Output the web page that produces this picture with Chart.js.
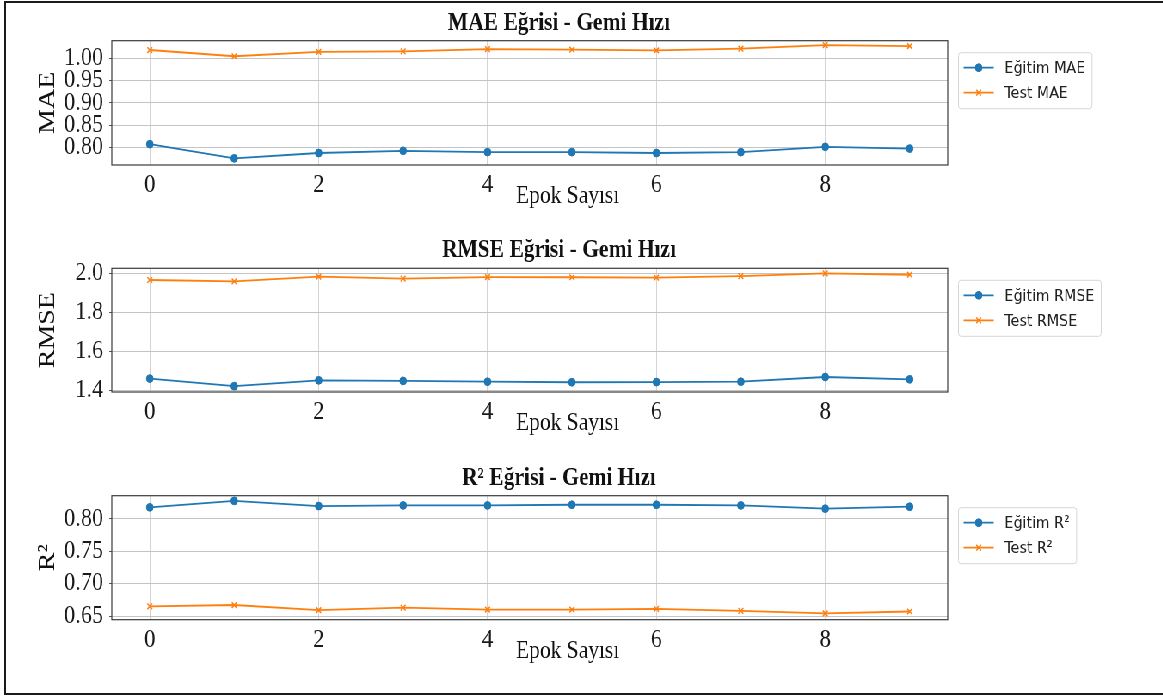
<!DOCTYPE html>
<html>
<head>
<meta charset="utf-8">
<script src="https://cdn.jsdelivr.net/npm/chart.js@4.4.0/dist/chart.umd.min.js"></script>
<style>
  html, body { margin: 0; padding: 0; background: #fff; }
  body { width: 1163px; height: 697px; overflow: hidden; position: relative; }
  #frame { position: absolute; left: 4px; top: 1px; width: 1180px; height: 694px;
           border: 2px solid #1a1a1a; box-sizing: border-box; }
  /* the source picture is squeezed sideways, so draw wide and squash */
  #squash { position: absolute; left: 0; top: 0; width: 1352px; height: 697px;
            transform: scaleX(0.86); transform-origin: 0 0; }
  .panel { position: absolute; left: 0; width: 1352px; }
</style>
</head>
<body>
<div id="squash">
  <div class="panel" style="top:0;height:228px"><canvas id="c0"></canvas></div>
  <div class="panel" style="top:228px;height:228px"><canvas id="c1"></canvas></div>
  <div class="panel" style="top:456px;height:241px"><canvas id="c2"></canvas></div>
</div>
<div id="frame"></div>
<script>
const epochs = [0, 1, 2, 3, 4, 5, 6, 7, 8, 9];

const maeTrain = [0.807, 0.775, 0.787, 0.792, 0.789, 0.789, 0.787, 0.789, 0.801, 0.797];
const maeTest = [1.019, 1.005, 1.015, 1.016, 1.021, 1.020, 1.018, 1.022, 1.030, 1.028];

const rmseTrain = [1.460, 1.421, 1.451, 1.448, 1.444, 1.441, 1.442, 1.444, 1.468, 1.456];
const rmseTest = [1.966, 1.959, 1.983, 1.973, 1.981, 1.980, 1.978, 1.986, 2.000, 1.993];

const r2Train = [0.818, 0.828, 0.820, 0.821, 0.821, 0.822, 0.822, 0.821, 0.816, 0.819];
const r2Test = [0.665, 0.667, 0.659, 0.663, 0.660, 0.660, 0.661, 0.658, 0.654, 0.657];

const titles = ["MAE Eğrisi - Gemi Hızı", "RMSE Eğrisi - Gemi Hızı", "R² Eğrisi - Gemi Hızı"];
const yLabels = ["MAE", "RMSE", "R²"];
const xLabel = "Epok Sayısı";
const trainNames = ["Eğitim MAE", "Eğitim RMSE", "Eğitim R²"];
const testNames = ["Test MAE", "Test RMSE", "Test R²"];
const yMin = [0.760, 1.391, 0.6443];
const yMax = [1.040, 2.026, 0.836];
const yStep = [0.05, 0.2, 0.05];
const yDigits = [2, 1, 2];

const BLUE = "#1f77b4";
const ORANGE = "#ff7f0e";
const SERIF = "'Liberation Serif', 'Times New Roman', serif";
const SANS = "'DejaVu Sans', sans-serif";

Chart.defaults.font.family = SERIF;
Chart.defaults.color = "#1a1a1a";

// layout padding per panel (top, bottom) so the three axes line up
const padTop = [40.7, 40.3, 39.7];
const padBottom = [23, 24, 37.3];

const panelText = {
  id: "panelText",
  afterDatasetsDraw(chart) {
    const { ctx, chartArea: a } = chart;
    ctx.save();
    ctx.strokeStyle = "#3a3a3a";
    ctx.lineWidth = 1.2;
    ctx.strokeRect(a.left, a.top, a.right - a.left, a.bottom - a.top);
    ctx.restore();
  },
  afterDraw(chart, args, opts) {
    const { ctx, chartArea: a } = chart;
    ctx.save();
    ctx.fillStyle = "#111";
    ctx.textAlign = "center";
    ctx.textBaseline = "alphabetic";
    ctx.font = "bold 25px " + SERIF;
    ctx.fillText(opts.title, 650, a.top - 11);
    ctx.font = "25px " + SERIF;
    ctx.fillText(xLabel, 660, a.bottom + 38);
    ctx.save();
    ctx.translate(56, (a.top + a.bottom) / 2);
    ctx.rotate(-Math.PI / 2);
    ctx.textBaseline = "middle";
    ctx.font = "28px " + SERIF;
    ctx.fillText(opts.ylabel, 0, 0);
    ctx.restore();

    // legend box, upper left outside the axes
    const ds = chart.data.datasets;
    ctx.font = "16.5px " + SANS;
    const tw = Math.max(...ds.map(d => ctx.measureText(d.label).width));
    const x0 = a.right + 12.5, y0 = a.top + 12;
    const w = 53.5 + tw + 8, h = 56;
    ctx.beginPath();
    ctx.roundRect(x0, y0, w, h, 3);
    ctx.fillStyle = "rgba(255,255,255,0.8)";
    ctx.fill();
    ctx.strokeStyle = "#d6d6d6";
    ctx.lineWidth = 1;
    ctx.stroke();
    ds.forEach((d, i) => {
      const yy = y0 + 15 + i * 25;
      ctx.strokeStyle = d.borderColor;
      ctx.lineWidth = 1.8;
      ctx.beginPath();
      ctx.moveTo(x0 + 6, yy);
      ctx.lineTo(x0 + 41, yy);
      ctx.stroke();
      ctx.fillStyle = d.pointBackgroundColor;
      ctx.strokeStyle = d.pointBorderColor;
      ctx.lineWidth = d.pointBorderWidth;
      Chart.helpers.drawPoint(ctx, { pointStyle: d.pointStyle, radius: d.pointRadius, rotation: 0, borderWidth: d.pointBorderWidth }, x0 + 23.5, yy);
      ctx.fillStyle = "#222";
      ctx.textAlign = "left";
      ctx.textBaseline = "middle";
      ctx.fillText(d.label, x0 + 53.5, yy + 1);
    });
    ctx.restore();
  }
};

function makeChart(idx, train, test) {
  const pts = arr => arr.map((v, i) => ({ x: epochs[i], y: v }));
  return new Chart(document.getElementById("c" + idx), {
    type: "line",
    data: {
      datasets: [
        { label: trainNames[idx], data: pts(train), borderColor: BLUE, backgroundColor: BLUE,
          borderWidth: 1.8, pointStyle: "circle", pointRadius: 3.9, pointBackgroundColor: BLUE,
          pointBorderColor: BLUE, pointBorderWidth: 1, tension: 0 },
        { label: testNames[idx], data: pts(test), borderColor: ORANGE, backgroundColor: ORANGE,
          borderWidth: 1.8, pointStyle: "crossRot", pointRadius: 4, pointBackgroundColor: ORANGE,
          pointBorderColor: ORANGE, pointBorderWidth: 1.5, tension: 0 }
      ]
    },
    options: {
      responsive: true,
      maintainAspectRatio: false,
      animation: false,
      layout: { padding: { left: 0, right: 250, top: padTop[idx], bottom: padBottom[idx] } },
      plugins: {
        legend: { display: false },
        tooltip: { enabled: false },
        panelText: { title: titles[idx], ylabel: yLabels[idx] }
      },
      scales: {
        x: {
          type: "linear",
          min: -0.45,
          max: 9.45,
          afterFit: s => { s.height = 40; },
          grid: { color: "#d4d4d4", lineWidth: 1, drawTicks: false },
          border: { display: false },
          ticks: { stepSize: 2, includeBounds: false, autoSkip: false, padding: 5, color: "#1a1a1a",
                   font: { size: 26 }, callback: v => String(v) }
        },
        y: {
          min: yMin[idx],
          max: yMax[idx],
          afterFit: s => { s.width = 130; },
          grid: { color: "#c4c4c4", lineWidth: 1, tickLength: 3, tickColor: "#555" },
          border: { display: false },
          ticks: { stepSize: yStep[idx], includeBounds: false, autoSkip: false, padding: 7, color: "#1a1a1a",
                   font: { size: 26 }, callback: v => Number(v).toFixed(yDigits[idx]) }
        }
      }
    },
    plugins: [panelText]
  });
}

makeChart(0, maeTrain, maeTest);
makeChart(1, rmseTrain, rmseTest);
makeChart(2, r2Train, r2Test);
</script>
</body>
</html>
